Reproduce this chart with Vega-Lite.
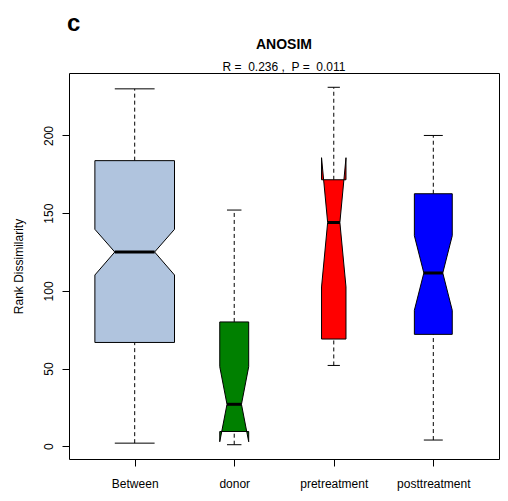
{
  "$schema": "https://vega.github.io/schema/vega-lite/v6.json",
  "background": "white",
  "padding": {"left": 11, "top": 11, "right": 9, "bottom": 10},
  "title": {"text": "c", "anchor": "start", "frame": "group", "fontSize": 24, "fontWeight": "bold", "font": "Liberation Sans", "color": "black", "dx": -2, "offset": 2},
  "config": {
    "view": {"stroke": "black", "strokeWidth": 1},
    "font": "Liberation Sans",
    "axis": {"grid": false, "domain": false, "tickColor": "black", "tickSize": 7, "labelFontSize": 12, "labelColor": "black", "labelFont": "Liberation Sans", "titleFont": "Liberation Sans", "titleFontSize": 12, "titleFontWeight": "normal", "titleColor": "black"}
  },
  "datasets": {
    "stats": [
      {"group": "Between", "n": 159, "lower": 2, "q1": 66.8, "notchLo": 110.2, "median": 125, "notchHi": 139.6, "q3": 183.8, "upper": 230},
      {"group": "donor", "n": 21, "lower": 1, "q1": 9.5, "notchLo": 2.9, "median": 27, "notchHi": 51.2, "q3": 80, "upper": 152},
      {"group": "pretreatment", "n": 15, "lower": 52, "q1": 69, "notchLo": 102.5, "median": 144, "notchHi": 185.7, "q3": 171.5, "upper": 231},
      {"group": "posttreatment", "n": 36, "lower": 4, "q1": 72, "notchLo": 87.5, "median": 111.5, "notchHi": 135.5, "q3": 162.5, "upper": 200}
    ]
  },
  "vconcat": [
    {
      "width": 430,
      "height": 386,
      "title": {"text": "ANOSIM", "subtitle": "R =\u00a0 0.236 ,\u00a0 P =\u00a0 0.011", "anchor": "middle", "frame": "group", "fontSize": 14, "fontWeight": "bold", "color": "black", "subtitleFontSize": 12, "subtitleColor": "black", "subtitleFont": "Liberation Sans", "subtitlePadding": 10, "offset": 0},
      "data": {"name": "stats"},
      "transform": [
        {"calculate": "indexof(['Between','donor','pretreatment','posttreatment'], datum.group) + 1", "as": "pos"},
        {"joinaggregate": [{"op": "max", "field": "n", "as": "nmax"}]},
        {"calculate": "0.4 * sqrt(datum.n / datum.nmax)", "as": "hw"},
        {"calculate": "datum.pos - datum.hw * 0.5", "as": "capL"},
        {"calculate": "datum.pos + datum.hw * 0.5", "as": "capR"}
      ],
      "layer": [
        {
          "mark": {"type": "rule", "color": "black", "strokeWidth": 1, "strokeDash": [4, 3]},
          "encoding": {
            "x": {"field": "pos", "type": "quantitative", "scale": {"domain": [0.34, 4.66], "nice": false, "zero": false}, "axis": {"values": [1, 2, 3, 4], "labelExpr": "['','Between','donor','pretreatment','posttreatment'][datum.value]", "title": null, "labelPadding": 12}},
            "y": {"field": "q3", "type": "quantitative", "scale": {"domain": [-8.2, 240.2], "nice": false, "zero": false}, "axis": {"values": [0, 50, 100, 150, 200], "labelAngle": -90, "title": "Rank Dissimilarity", "labelPadding": 7, "titlePadding": 17}},
            "y2": {"field": "upper"}
          }
        },
        {
          "mark": {"type": "rule", "color": "black", "strokeWidth": 1, "strokeDash": [4, 3]},
          "encoding": {
            "x": {"field": "pos", "type": "quantitative"},
            "y": {"field": "lower", "type": "quantitative"},
            "y2": {"field": "q1"}
          }
        },
        {
          "transform": [{"fold": ["lower", "upper"], "as": ["cap", "capv"]}],
          "mark": {"type": "rule", "color": "black", "strokeWidth": 1},
          "encoding": {
            "x": {"field": "capL", "type": "quantitative"},
            "x2": {"field": "capR"},
            "y": {"field": "capv", "type": "quantitative"}
          }
        },
        {
          "transform": [
            {"fold": ["q1", "notchLo", "median", "notchHi", "q3"], "as": ["vertex", "v"]},
            {"calculate": "indexof(['q1','notchLo','median','notchHi','q3'], datum.vertex)", "as": "vi"},
            {"calculate": "datum.vertex == 'median' ? 0.5 : 1", "as": "f"},
            {"calculate": "datum.pos - datum.hw * datum.f", "as": "xa"},
            {"calculate": "datum.pos + datum.hw * datum.f", "as": "xb"},
            {"fold": ["xa", "xb"], "as": ["side", "xv"]},
            {"calculate": "datum.side == 'xa' ? datum.vi : 9 - datum.vi", "as": "ord"}
          ],
          "mark": {"type": "line", "interpolate": "linear-closed", "stroke": "black", "strokeWidth": 1},
          "encoding": {
            "x": {"field": "xv", "type": "quantitative"},
            "y": {"field": "v", "type": "quantitative"},
            "order": {"field": "ord", "type": "quantitative"},
            "detail": {"field": "group", "type": "nominal"},
            "fill": {"field": "group", "type": "nominal", "scale": {"domain": ["Between", "donor", "pretreatment", "posttreatment"], "range": ["#B0C4DE", "#008000", "#FF0000", "#0000FF"]}, "legend": null}
          }
        },
        {
          "mark": {"type": "rule", "color": "black", "strokeWidth": 3},
          "encoding": {
            "x": {"field": "capL", "type": "quantitative"},
            "x2": {"field": "capR"},
            "y": {"field": "median", "type": "quantitative"}
          }
        }
      ]
    }
  ]
}
